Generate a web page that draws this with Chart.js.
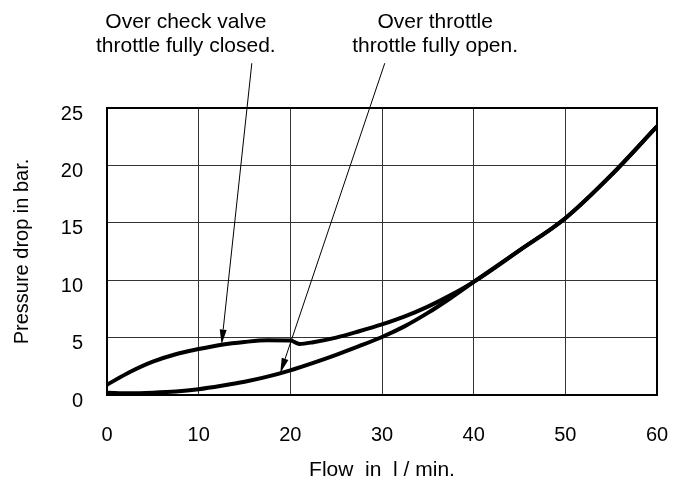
<!DOCTYPE html>
<html>
<head>
<meta charset="utf-8">
<script src="https://cdn.jsdelivr.net/npm/chart.js@4.4.1/dist/chart.umd.min.js"></script>
<style>
  html, body { margin: 0; padding: 0; background: #fff; }
  #wrap { width: 675px; height: 486px; }
</style>
</head>
<body>
<div id="wrap"><canvas id="chart"></canvas></div>
<script>
// flow (l/min) and pressure drop (bar)
const flowCheck = [0, 2.5, 5, 7.5, 10, 12.5, 15, 17.5, 20, 21, 22.5, 25, 27.5, 30, 32.5, 35, 37.5, 40, 45, 50, 55, 60];
const dropCheck = [0.9, 2.0, 2.9, 3.55, 4.0, 4.38, 4.62, 4.76, 4.75, 4.45, 4.6, 5.0, 5.55, 6.15, 6.85, 7.7, 8.7, 9.85, 12.6, 15.4, 19.15, 23.4];

const flowThrottle = [0, 2.5, 5, 7.5, 10, 12.5, 15, 17.5, 20, 22.5, 25, 27.5, 30, 32.5, 35, 37.5, 40, 45, 50, 55, 60];
const dropThrottle = [0.2, 0.15, 0.2, 0.3, 0.5, 0.8, 1.15, 1.6, 2.15, 2.8, 3.5, 4.25, 5.05, 6.0, 7.15, 8.45, 9.85, 12.6, 15.4, 19.15, 23.4];

const xTicks = [0, 10, 20, 30, 40, 50, 60];
const yTicks = [0, 5, 10, 15, 20, 25];

// callout text and leader arrows (data coords: label centre x, arrow start -> tip)
const noteLines = [['Over check valve', 'throttle fully closed.'], ['Over throttle', 'throttle fully open.']];
const noteX = [8.6, 35.8];
const arrowFrom = [[15.8, 28.9], [30.3, 28.9]];
const arrowTo = [[12.5, 4.4], [18.9, 1.9]];

const FONT = '"Liberation Sans", Arial, sans-serif';

function pts(xs, ys) {
  return xs.map((x, i) => ({ x: x, y: ys[i] }));
}

const calloutPlugin = {
  id: 'callouts',
  afterDraw(chart) {
    const { ctx, chartArea: a, scales: { x, y } } = chart;
    ctx.save();
    // frame round the plot
    ctx.strokeStyle = '#000';
    ctx.lineWidth = 2;
    ctx.strokeRect(a.left, a.top, a.right - a.left, a.bottom - a.top);

    // leader arrows
    ctx.lineWidth = 1;
    ctx.fillStyle = '#000';
    arrowFrom.forEach((f, i) => {
      const x0 = x.getPixelForValue(f[0]), y0 = y.getPixelForValue(f[1]);
      const x1 = x.getPixelForValue(arrowTo[i][0]), y1 = y.getPixelForValue(arrowTo[i][1]);
      const ang = Math.atan2(y1 - y0, x1 - x0);
      const len = 15, half = 3.5;
      const bx = x1 - len * Math.cos(ang), by = y1 - len * Math.sin(ang);
      ctx.beginPath();
      ctx.moveTo(x0, y0);
      ctx.lineTo(bx, by);
      ctx.stroke();
      ctx.beginPath();
      ctx.moveTo(x1, y1);
      ctx.lineTo(bx + half * Math.sin(ang), by - half * Math.cos(ang));
      ctx.lineTo(bx - half * Math.sin(ang), by + half * Math.cos(ang));
      ctx.closePath();
      ctx.fill();
    });

    // callout text
    ctx.font = '21px ' + FONT;
    ctx.textAlign = 'center';
    ctx.textBaseline = 'alphabetic';
    noteLines.forEach((lines, i) => {
      const cx = x.getPixelForValue(noteX[i]);
      lines.forEach((t, j) => ctx.fillText(t, cx, 28 + j * 24));
    });
    ctx.restore();
  }
};

new Chart(document.getElementById('chart'), {
  type: 'line',
  data: {
    datasets: [
      {
        label: 'Over check valve, throttle fully closed',
        data: pts(flowCheck, dropCheck),
        borderColor: '#000',
        borderWidth: 4,
        pointRadius: 0,
        cubicInterpolationMode: 'monotone',
        fill: false
      },
      {
        label: 'Over throttle, throttle fully open',
        data: pts(flowThrottle, dropThrottle),
        borderColor: '#000',
        borderWidth: 4,
        pointRadius: 0,
        cubicInterpolationMode: 'monotone',
        fill: false
      }
    ]
  },
  options: {
    responsive: true,
    maintainAspectRatio: false,
    animation: false,
    layout: { padding: { top: 108, right: 18, left: 0, bottom: 0 } },
    plugins: {
      legend: { display: false },
      tooltip: { enabled: false }
    },
    scales: {
      x: {
        type: 'linear',
        min: 0,
        max: 60,
        afterBuildTicks: s => { s.ticks = xTicks.map(v => ({ value: v })); },
        afterFit: s => { s.height = 91; s.paddingLeft = 0; s.paddingRight = 0; },
        ticks: { color: '#000', font: { family: FONT, size: 20 }, padding: 28, maxRotation: 0 },
        grid: { color: '#333', lineWidth: 1, drawTicks: false },
        border: { display: false },
        title: {
          display: true,
          text: 'Flow  in  l / min.',
          color: '#000',
          font: { family: FONT, size: 21 },
          padding: { top: 0, bottom: 3 }
        }
      },
      y: {
        min: 0,
        max: 25,
        afterBuildTicks: s => { s.ticks = yTicks.map(v => ({ value: v })); },
        afterFit: s => { s.width = 107; s.paddingTop = 0; s.paddingBottom = 0; },
        ticks: { color: '#000', font: { family: FONT, size: 20 }, padding: 24, labelOffset: 6 },
        grid: { color: '#333', lineWidth: 1, drawTicks: false },
        border: { display: false },
        title: {
          display: true,
          text: 'Pressure drop in bar.',
          color: '#000',
          font: { family: FONT, size: 20 },
          padding: { top: 10, bottom: 0 }
        }
      }
    }
  },
  plugins: [calloutPlugin]
});
</script>
</body>
</html>
